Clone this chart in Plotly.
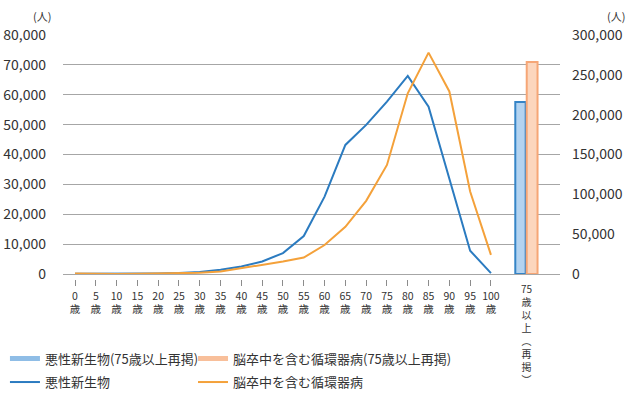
import plotly.graph_objects as go

FONT = "Noto Sans CJK JP"

# ---- data ----
ages = list(range(0, 101, 5))
age_labels = [f"{a}<br>歳" for a in ages]
cancer = [100, 80, 90, 130, 200, 350, 700, 1400, 2500, 4200, 7000, 12700,
          25900, 43200, 49900, 57700, 66300, 56000, 32000, 7800, 300]
circulatory = [150, 30, 40, 80, 150, 250, 400, 800, 1900, 3100, 4200, 5500,
               9700, 15800, 24500, 36500, 60500, 74100, 61100, 27600, 6400]
over75_label = "75<br>歳<br>以<br>上<br>︵<br>再<br>掲<br>︶"
cancer_75 = [216000]
circulatory_75 = [266000]

name_cancer = "悪性新生物"
name_circ = "脳卒中を含む循環器病"
name_cancer_75 = "悪性新生物(75歳以上再掲)"
name_circ_75 = "脳卒中を含む循環器病(75歳以上再掲)"

left_ticks = list(range(0, 80001, 10000))
right_ticks = list(range(0, 300001, 50000))

BLUE = "#2b7bc0"
ORANGE = "#f4a13a"
TXT = "#333333"

BAR_X = 108.6

fig = go.Figure()

fig.add_trace(go.Bar(x=[BAR_X], y=cancer_75, yaxis="y2", width=2.5, offset=-2.75,
                     marker=dict(color="#b3d3f0", line=dict(color="#3584c6", width=2)),
                     showlegend=False))
fig.add_trace(go.Bar(x=[BAR_X], y=circulatory_75, yaxis="y2", width=2.6, offset=0.0,
                     marker=dict(color="#fcd6bd", line=dict(color="#f6a676", width=2)),
                     showlegend=False))

fig.add_trace(go.Scatter(x=ages, y=cancer, mode="lines", line=dict(color=BLUE, width=2),
                         showlegend=False))
fig.add_trace(go.Scatter(x=ages, y=circulatory, mode="lines", line=dict(color=ORANGE, width=2),
                         showlegend=False))

# legend entries (one legend per entry so each can be placed)
fig.add_trace(go.Scatter(x=[None], y=[None], mode="lines", name=name_cancer_75,
                         line=dict(color="#8fbde6", width=5), legend="legend"))
fig.add_trace(go.Scatter(x=[None], y=[None], mode="lines", name=name_circ_75,
                         line=dict(color="#f8bf9a", width=5), legend="legend2"))
fig.add_trace(go.Scatter(x=[None], y=[None], mode="lines", name=name_cancer,
                         line=dict(color=BLUE, width=2), legend="legend3"))
fig.add_trace(go.Scatter(x=[None], y=[None], mode="lines", name=name_circ,
                         line=dict(color=ORANGE, width=2), legend="legend4"))
# anchor for tick axis
fig.add_trace(go.Scatter(x=[None], y=[None], xaxis="x2", showlegend=False))

annotations = [
    dict(text=over75_label, xref="x", yref="paper", x=BAR_X, y=0, yshift=0,
         xanchor="center", yanchor="top", showarrow=False,
         font=dict(size=10, color=TXT, family=FONT)),
    dict(text="(人)", xref="paper", yref="paper", x=-0.043, y=1.0, yshift=19,
         xanchor="center", yanchor="middle", showarrow=False,
         font=dict(size=11, color=TXT, family=FONT)),
    dict(text="(人)", xref="paper", yref="paper", x=1.113, y=1.0, yshift=19,
         xanchor="center", yanchor="middle", showarrow=False,
         font=dict(size=11, color=TXT, family=FONT)),
]


def leg(x, y):
    return dict(orientation="h", x=x, xanchor="left", y=y, yanchor="top",
                font=dict(size=13, color=TXT, family=FONT), bgcolor="rgba(0,0,0,0)")


XR = [-2.885, 116.6]
fig.update_layout(
    template="none",
    width=634, height=405,
    margin=dict(l=63, r=74, t=35, b=126, autoexpand=False),
    paper_bgcolor="white", plot_bgcolor="white",
    font=dict(family=FONT, color=TXT, size=12),
    xaxis=dict(range=XR, showgrid=False, showticklabels=False, ticks="",
               zeroline=False, showline=False, automargin=False),
    xaxis2=dict(range=XR, overlaying="x", anchor="free", position=0, side="bottom",
                tickmode="array", tickvals=ages, ticktext=age_labels,
                ticks="outside", ticklen=6, tickcolor="#8c8c8c", tickwidth=1,
                showgrid=False, zeroline=False, showline=False, automargin=False,
                ticklabelstandoff=1,
                tickfont=dict(size=10.5, color=TXT, family=FONT)),
    yaxis=dict(range=[0, 80000], domain=[5 / 244, 1], tickvals=left_ticks,
               tickformat=",", showgrid=True, gridcolor="#a6a6a6", gridwidth=1,
               zeroline=True, zerolinecolor="#a6a6a6", zerolinewidth=1,
               ticks="", showline=False, ticklabelstandoff=16, automargin=False,
               tickfont=dict(size=14, color=TXT, family=FONT)),
    yaxis2=dict(range=[0, 300000], overlaying="y", side="right", tickvals=right_ticks,
                tickformat=",", showgrid=False, zeroline=False, ticks="", showline=False,
                ticklabelstandoff=11, automargin=False,
                tickfont=dict(size=14, color=TXT, family=FONT)),
    legend=leg(-0.1168, -0.265),
    legend2=leg(0.2616, -0.265),
    legend3=leg(-0.1168, -0.361),
    legend4=leg(0.2616, -0.361),
    annotations=annotations,
    showlegend=True,
)

fig.write_html("out.html")
